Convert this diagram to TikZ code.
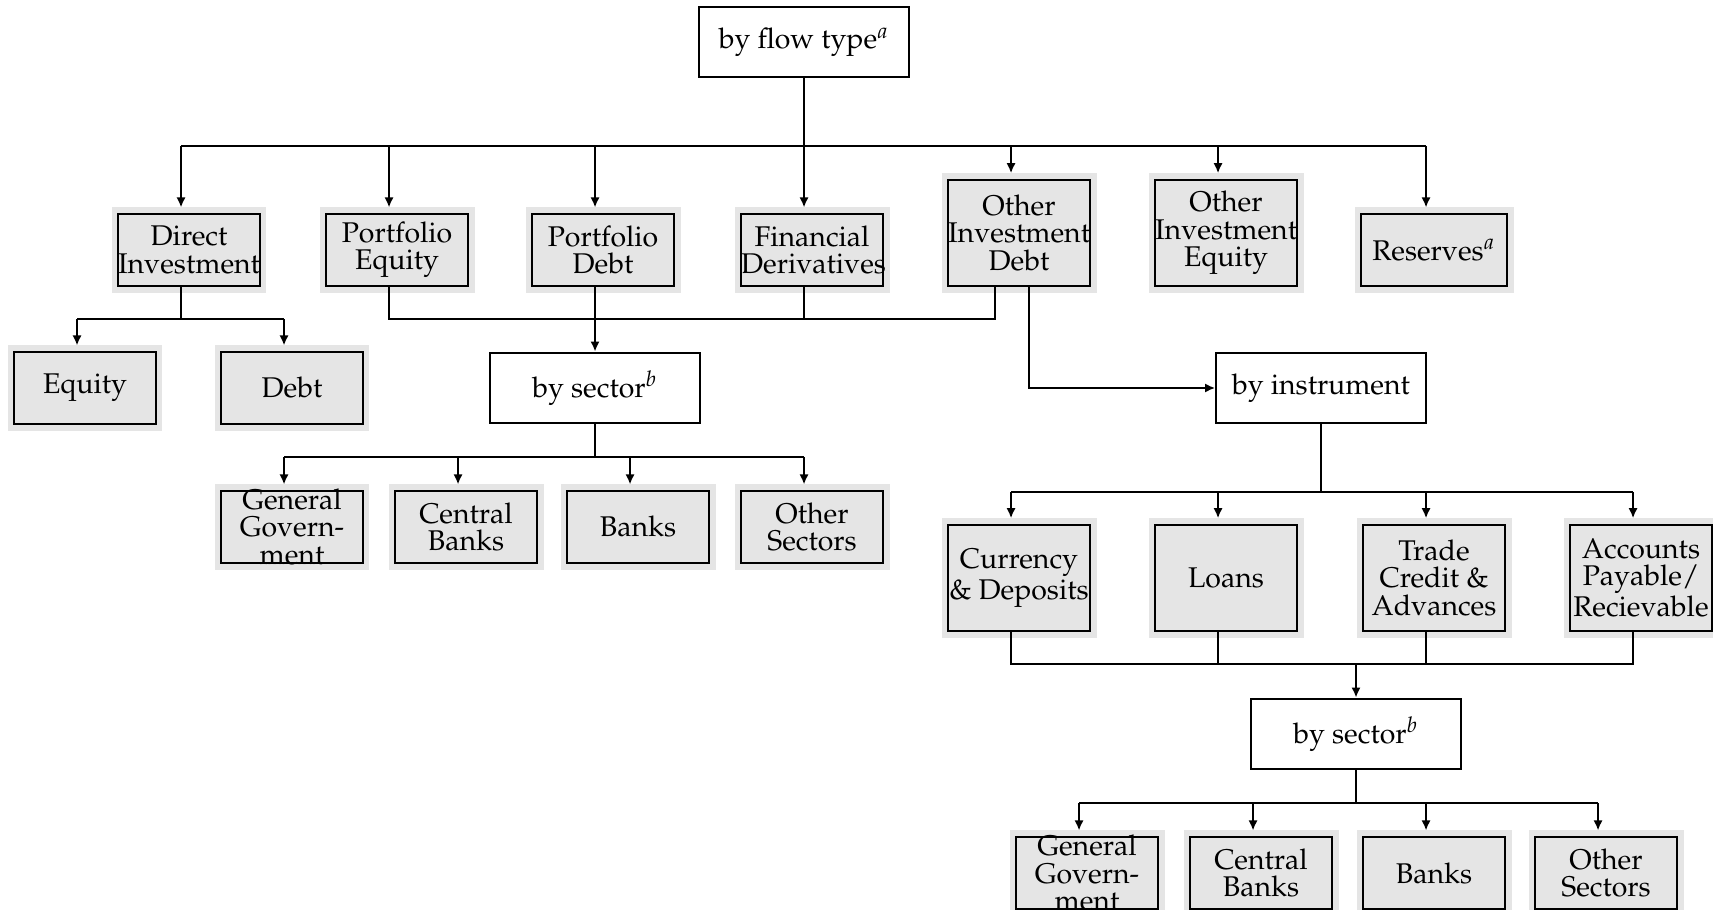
\documentclass[tikz,border=0pt]{standalone}
\usepackage[T1]{fontenc}
\usepackage{mathpazo}
\usetikzlibrary{arrows.meta}

\begin{document}
\begin{tikzpicture}[x=0.351pt,y=-0.351pt,
  line/.style={line width=0.6pt},
  arr/.style={line width=0.6pt,-{Latex[length=3.5pt,width=3.2pt]}},
  garr/.style={arr,shorten >=2.3pt},
  wbox/.style={draw,line width=0.7pt,minimum width=73.7pt,minimum height=24.9pt,inner sep=0pt,font=\fontsize{10}{9.6}\selectfont},
  gbox/.style={draw,line width=0.7pt,fill=gray!20,preaction={draw=gray!20,fill=gray!20,line width=4.6pt},minimum width=49.8pt,minimum height=25.3pt,inner sep=0pt,outer sep=0pt,
    execute at begin node={\vbox to 0pt\bgroup\vss\hsize=49.8pt\hyphenpenalty=10000\fontsize{10}{9.6}\selectfont\centering},
    execute at end node={\endgraf\vss\egroup}},
  tall/.style={minimum height=37.4pt},
  lft/.style={xshift=-2.8pt}]
\useasboundingbox (0,0) rectangle (1713,910);
% top level
\node[wbox] (flow) at (804,42) {by flow type$^a$};
\coordinate (bus) at (0,146);
\node[gbox] (di) at (189,250) {Direct\\Investment};
\node[gbox] (pe) at (397,250) {Portfolio\\Equity};
\node[gbox] (pd) at (603,250) {Portfolio\\Debt};
\node[gbox] (fd) at (812,250) {Financial\\Derivatives};
\node[gbox,tall] (oid) at (1019,233) {Other\\Investment\\Debt};
\node[gbox,tall] (oie) at (1226,233) {Other\\Investment\\Equity};
\node[gbox,minimum width=51.2pt] (res) at (1434,250) {Reserves$^a$};
\draw[line] (flow) -- (flow |- bus);
\draw[line] ([lft]di.north |- bus) -- ([lft]res.north |- bus);
\foreach \n in {di,pe,pd,fd,oid,oie,res}
  \draw[garr] ([lft]\n.north |- bus) -- ([lft]\n.north);
% direct investment split
\coordinate (split1) at (0,319);
\node[gbox] (eq) at (85,388) {Equity};
\node[gbox] (debt) at (292,388) {Debt};
\draw[line] ([lft]di.south) -- ([lft]di.south |- split1);
\draw[line] ([lft]eq.north |- split1) -- ([lft]debt.north |- split1);
\foreach \n in {eq,debt}
  \draw[garr] ([lft]\n.north |- split1) -- ([lft]\n.north);
% portfolio, derivatives and other investment by sector
\node[wbox] (sec) at (595,388) {by sector$^b$};
\draw[line] ([lft]pe.south) -- ([lft]pe.south |- split1) -- ([xshift=-8.5pt]oid.south |- split1) -- ([xshift=-8.5pt]oid.south);
\draw[line] ([lft]fd.south) -- ([lft]fd.south |- split1);
\draw[arr] ([lft]pd.south) -- ([lft]pd.south |- sec.north);
\coordinate (split2) at (0,457);
\node[gbox] (gg) at (292,527) {General\\Govern-\\ment};
\node[gbox] (cb) at (466,527) {Central\\Banks};
\node[gbox] (bk) at (638,527) {Banks};
\node[gbox] (os) at (812,527) {Other\\Sectors};
\draw[line] (sec.south) -- (sec.south |- split2);
\draw[line] ([lft]gg.north |- split2) -- ([lft]os.north |- split2);
\foreach \n in {gg,cb,bk,os}
  \draw[garr] ([lft]\n.north |- split2) -- ([lft]\n.north);
% other investment debt by instrument
\node[wbox] (instr) at (1321,388) {by instrument};
\draw[arr] ([xshift=3.4pt]oid.south) |- (instr.west);
\coordinate (split3) at (0,492);
\node[gbox,tall] (cur) at (1019,578) {Currency\\\& Deposits};
\node[gbox,tall] (loan) at (1226,578) {Loans};
\node[gbox,tall] (trade) at (1434,578) {Trade\\Credit \&\\Advances};
\node[gbox,tall] (acc) at (1641,578) {Accounts\\Payable/\\Recievable};
\draw[line] (instr.south) -- (instr.south |- split3);
\draw[line] ([lft]cur.north |- split3) -- ([lft]acc.north |- split3);
\foreach \n in {cur,loan,trade,acc}
  \draw[garr] ([lft]\n.north |- split3) -- ([lft]\n.north);
\coordinate (join) at (0,664);
\node[wbox] (sec2) at (1356,734) {by sector$^b$};
\draw[line] ([lft]cur.south) -- ([lft]cur.south |- join) -- ([lft]acc.south |- join) -- ([lft]acc.south);
\foreach \n in {loan,trade}
  \draw[line] ([lft]\n.south) -- ([lft]\n.south |- join);
\draw[arr] (sec2.north |- join) -- (sec2.north);
\coordinate (split4) at (0,803);
\node[gbox] (gg2) at (1087,873) {General\\Govern-\\ment};
\node[gbox] (cb2) at (1261,873) {Central\\Banks};
\node[gbox] (bk2) at (1434,873) {Banks};
\node[gbox] (os2) at (1606,873) {Other\\Sectors};
\draw[line] (sec2.south) -- (sec2.south |- split4);
\draw[line] ([lft]gg2.north |- split4) -- ([lft]os2.north |- split4);
\foreach \n in {gg2,cb2,bk2,os2}
  \draw[garr] ([lft]\n.north |- split4) -- ([lft]\n.north);
\end{tikzpicture}
\end{document}
